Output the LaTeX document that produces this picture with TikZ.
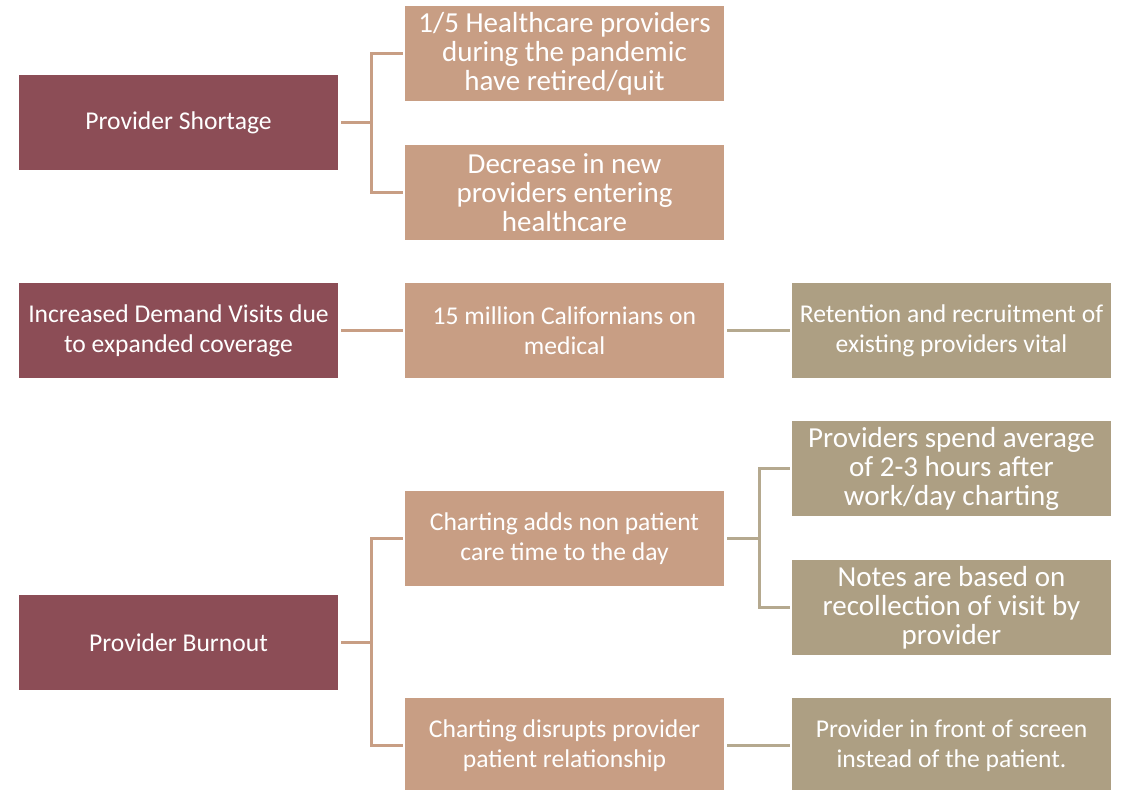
\documentclass[tikz,border=0pt]{standalone}
\usepackage{fontspec}
\setmainfont{Carlito}
\usepackage{tikz}
\usetikzlibrary{positioning,calc}

\definecolor{maroon}{HTML}{8C4D56}
\definecolor{clay}{HTML}{C89E84}
\definecolor{khaki}{HTML}{AD9F83}

\begin{document}
\begin{tikzpicture}[x=0.5pt,y=-0.5pt,
    box/.style={minimum width=159.5pt,minimum height=47.5pt,inner sep=0pt,
        align=center,text=white,font=\fontsize{12.8}{15}\selectfont},
    bigtext/.style={font=\fontsize{14.5}{14.5}\selectfont},
    cause/.style={box,fill=maroon},
    effect/.style={box,fill=clay},
    result/.style={box,fill=khaki},
    link/.style={draw=clay,line width=1.5pt},
    sublink/.style={draw=khaki!90!white,line width=1.5pt}]
    \useasboundingbox (0,0) rectangle (1136,790);

    % causes
    \node[cause] (short) at (178.5,122.5) {Provider Shortage};
    \node[cause] (demand) at (178.5,330.5) {Increased Demand Visits due\\to expanded coverage};
    \node[cause] (burn) at (178.5,642.5) {Provider Burnout};

    % effects
    \node[effect,bigtext] (quit) at (564.5,53.5) {1/5 Healthcare providers\\during the pandemic\\have retired/quit};
    \node[effect,bigtext] (decr) at (564.5,192.5) {Decrease in new\\providers entering\\healthcare};
    \node[effect] (cal) at (564.5,330.5) {15 million Californians on\\medical};
    \node[effect] (addtime) at (564.5,538.5) {Charting adds non patient\\care time to the day};
    \node[effect] (disrupt) at (564.5,745.5) {Charting disrupts provider\\patient relationship};

    % results
    \node[result] (retain) at (951.5,330.5) {Retention and recruitment of\\existing providers vital};
    \node[result,bigtext] (spend) at (951.5,468.5) {Providers spend average\\of 2-3 hours after\\work/day charting};
    \node[result,bigtext] (notes) at (951.5,607.5) {Notes are based on\\recollection of visit by\\provider};
    \node[result] (screen) at (951.5,745.5) {Provider in front of screen\\instead of the patient.};

    % connectors
    \draw[link] ([xshift=1.5pt]short.east) -- ++(30,0) coordinate (j1) |- ([xshift=-1pt]quit.west);
    \draw[link] (j1) |- ([xshift=-1pt]decr.west);
    \draw[link] ([xshift=1.5pt]demand.east) -- ([xshift=-1pt]cal.west);
    \draw[link] ([xshift=1.5pt]burn.east) -- ++(30,0) coordinate (j2) |- ([xshift=-1pt]addtime.west);
    \draw[link] (j2) |- ([xshift=-1pt]disrupt.west);
    \draw[sublink] ([xshift=1.5pt]cal.east) -- ([xshift=-1pt]retain.west);
    \draw[sublink] ([xshift=1.5pt]addtime.east) -- ++(32,0) coordinate (j3) |- ([xshift=-1pt]spend.west);
    \draw[sublink] (j3) |- ([xshift=-1pt]notes.west);
    \draw[sublink] ([xshift=1.5pt]disrupt.east) -- ([xshift=-1pt]screen.west);
\end{tikzpicture}
\end{document}
